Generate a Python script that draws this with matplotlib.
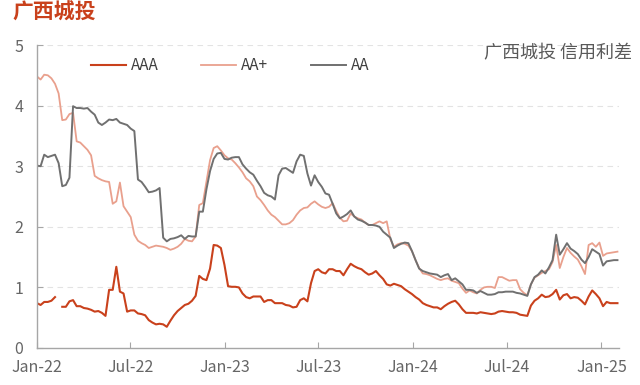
import numpy as np
import pandas as pd
import matplotlib
matplotlib.use("Agg")
import matplotlib.pyplot as plt
import matplotlib.dates as mdates

plt.rcParams['font.family'] = ['Noto Sans CJK SC', 'DejaVu Sans']

# 周度数据
dates = pd.date_range("2022-01-01", periods=162, freq="7D")

aaa = [0.74, 0.71, 0.76, 0.76, 0.78, 0.84, np.nan, 0.68, 0.68, 0.77,
       0.79, 0.69, 0.69, 0.66, 0.65, 0.63, 0.60, 0.61, 0.58, 0.53,
       0.96, 0.96, 1.34, 0.93, 0.90, 0.60, 0.62, 0.62, 0.57, 0.56,
       0.54, 0.46, 0.42, 0.39, 0.40, 0.39, 0.35, 0.45, 0.54, 0.61,
       0.66, 0.71, 0.73, 0.78, 0.86, 1.19, 1.14, 1.12, 1.31, 1.70,
       1.69, 1.65, 1.37, 1.02, 1.01, 1.01, 1.00, 0.90, 0.84, 0.82,
       0.85, 0.85, 0.85, 0.76, 0.79, 0.79, 0.74, 0.74, 0.74, 0.71,
       0.70, 0.67, 0.68, 0.79, 0.82, 0.77, 1.07, 1.27, 1.30, 1.25,
       1.23, 1.30, 1.30, 1.27, 1.27, 1.20, 1.30, 1.39, 1.35, 1.32,
       1.30, 1.25, 1.21, 1.23, 1.27, 1.20, 1.14, 1.05, 1.03, 1.06,
       1.04, 1.02, 0.97, 0.93, 0.89, 0.84, 0.80, 0.74, 0.71, 0.69,
       0.67, 0.67, 0.64, 0.69, 0.73, 0.76, 0.78, 0.72, 0.64, 0.58,
       0.58, 0.58, 0.57, 0.59, 0.58, 0.57, 0.56, 0.57, 0.60, 0.61,
       0.60, 0.59, 0.59, 0.58, 0.55, 0.54, 0.53, 0.70, 0.78, 0.82,
       0.88, 0.84, 0.85, 0.89, 0.96, 0.80, 0.87, 0.89, 0.82, 0.84,
       0.83, 0.78, 0.72, 0.85, 0.95, 0.89, 0.82, 0.69, 0.76, 0.74,
       0.74, 0.74]

aa_plus = [4.48, 4.43, 4.51, 4.50, 4.45, 4.36, 4.20, 3.76, 3.77, 3.86,
           3.88, 3.41, 3.39, 3.33, 3.27, 3.18, 2.84, 2.80, 2.77, 2.75,
           2.74, 2.38, 2.42, 2.73, 2.34, 2.25, 2.16, 1.87, 1.77, 1.73,
           1.70, 1.65, 1.67, 1.69, 1.68, 1.67, 1.65, 1.62, 1.64, 1.67,
           1.72, 1.80, 1.77, 1.76, 1.84, 2.36, 2.39, 2.75, 3.10, 3.30,
           3.33, 3.26, 3.18, 3.13, 3.11, 3.05, 2.98, 2.90, 2.80, 2.75,
           2.67, 2.50, 2.44, 2.36, 2.27, 2.20, 2.16, 2.10, 2.04, 2.04,
           2.06, 2.11, 2.20, 2.27, 2.31, 2.32, 2.38, 2.42, 2.37, 2.33,
           2.31, 2.33, 2.39, 2.26, 2.15, 2.09, 2.10, 2.22, 2.17, 2.14,
           2.12, 2.07, 2.03, 2.03, 2.06, 2.09, 2.06, 2.09, 1.80, 1.67,
           1.71, 1.73, 1.72, 1.69, 1.60, 1.45, 1.32, 1.23, 1.22, 1.20,
           1.17, 1.14, 1.12, 1.14, 1.15, 1.11, 1.09, 1.07, 0.98, 0.91,
           0.95, 0.92, 0.90, 0.96, 1.00, 1.01, 1.01, 0.99, 1.17, 1.17,
           1.14, 1.11, 1.12, 1.12, 0.97, 0.91, 0.87, 1.05, 1.16, 1.20,
           1.24, 1.27, 1.30, 1.42, 1.70, 1.32, 1.50, 1.65, 1.57, 1.51,
           1.46, 1.35, 1.22, 1.70, 1.73, 1.67, 1.74, 1.52, 1.56, 1.57,
           1.58, 1.59]

aa = [3.01, 3.00, 3.19, 3.15, 3.17, 3.19, 3.05, 2.67, 2.69, 2.81,
      3.99, 3.96, 3.96, 3.95, 3.96, 3.90, 3.85, 3.72, 3.68, 3.72,
      3.77, 3.76, 3.78, 3.72, 3.70, 3.68, 3.62, 3.58, 2.78, 2.74,
      2.66, 2.57, 2.58, 2.60, 2.64, 1.82, 1.76, 1.80, 1.81, 1.83,
      1.86, 1.80, 1.85, 1.84, 1.84, 2.25, 2.25, 2.62, 2.92, 3.12,
      3.21, 3.22, 3.12, 3.11, 3.14, 3.15, 3.15, 3.03, 2.96, 2.90,
      2.86, 2.76, 2.67, 2.56, 2.52, 2.50, 2.45, 2.85, 2.96, 2.97,
      2.93, 2.89, 3.08, 3.19, 3.17, 2.88, 2.68, 2.85, 2.74, 2.66,
      2.55, 2.53, 2.38, 2.22, 2.14, 2.17, 2.21, 2.27, 2.17, 2.12,
      2.10, 2.07, 2.03, 2.03, 2.02, 2.00, 1.92, 1.87, 1.82, 1.65,
      1.69, 1.72, 1.74, 1.73, 1.60, 1.45, 1.31, 1.27, 1.25, 1.23,
      1.22, 1.21, 1.17, 1.20, 1.22, 1.12, 1.15, 1.10, 1.05, 0.96,
      0.96, 0.95, 0.91, 0.94, 0.91, 0.88, 0.88, 0.89, 0.92, 0.92,
      0.93, 0.93, 0.93, 0.91, 0.90, 0.88, 0.86, 1.05, 1.17, 1.21,
      1.28, 1.23, 1.33, 1.45, 1.87, 1.54, 1.63, 1.73, 1.64, 1.60,
      1.55, 1.46, 1.40, 1.50, 1.63, 1.59, 1.55, 1.36, 1.43, 1.44,
      1.45, 1.45]

series_names = ["AAA", "AA+", "AA"]
colors = ["#C9411C", "#E9A08D", "#707070"]

fig = plt.figure(figsize=(6.4, 3.85), dpi=100)
ax = fig.add_axes([37 / 640, 1 - 348 / 385, (619 - 37) / 640, (348 - 45) / 385])

for vals, name, c, lw in zip([aaa, aa_plus, aa], series_names, colors, [1.5, 1.3, 1.4]):
    ax.plot(dates, vals, color=c, lw=lw, label=name)

ax.set_ylim(0, 5)
ax.set_yticks([0, 1, 2, 3, 4, 5])
ax.set_xlim(pd.Timestamp("2022-01-01"), pd.Timestamp("2025-02-04"))
ax.xaxis.set_major_locator(mdates.MonthLocator(bymonth=[1, 7]))
ax.xaxis.set_major_formatter(mdates.DateFormatter("%b-%y"))

for y in [1, 2, 3, 4, 5]:
    ax.axhline(y, color="#E3E3E3", lw=0.8, ls=(0, (5, 4)), zorder=0)

for s in ["top", "right"]:
    ax.spines[s].set_visible(False)
for s in ["left", "bottom"]:
    ax.spines[s].set_color("#A6A6A6")
    ax.spines[s].set_linewidth(1.0)
ax.tick_params(axis="both", direction="in", length=4, color="#A6A6A6",
               labelsize=11.5, labelcolor="#666666")
ax.tick_params(axis="y", pad=10)
ax.tick_params(axis="x", pad=8)

ax.legend(loc="center", bbox_to_anchor=(230 / 640, 1 - 66 / 385),
          bbox_transform=fig.transFigure, ncol=3, frameon=False,
          fontsize=11, handlelength=2.3, columnspacing=2.8, handletextpad=0.3,
          labelcolor="#404040")

fig.text(12 / 640, 1 - 12 / 385, "广西城投", color="#C9411C", fontsize=15,
         fontweight="bold", va="center", ha="left")
fig.text(632 / 640, 1 - 53 / 385, "广西城投 信用利差", color="#595959",
         fontsize=13, va="center", ha="right")

fig.savefig("out.png", dpi=100)
